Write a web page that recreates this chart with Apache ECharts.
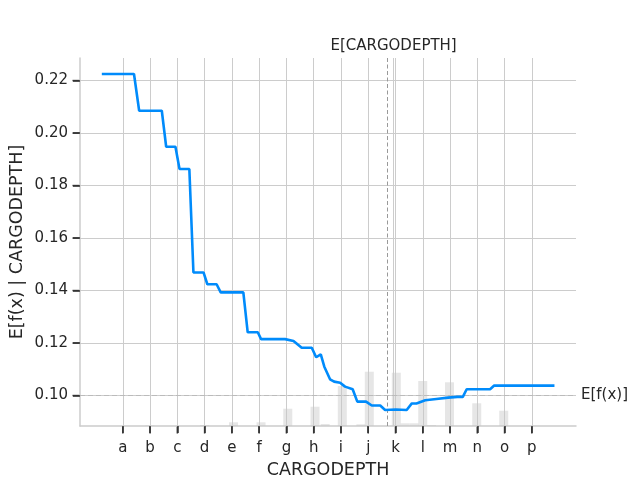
<!DOCTYPE html>
<html>
<head>
<meta charset="utf-8">
<script src="https://cdn.jsdelivr.net/npm/echarts@6/dist/echarts.min.js"></script>
<style>html,body{margin:0;padding:0;background:#fff}#c{width:640px;height:480px}</style>
</head>
<body>
<div id="c"></div>
<script>
const categories = ['a','b','c','d','e','f','g','h','i','j','k','l','m','n','o','p'];
const yTicks = [0.10, 0.12, 0.14, 0.16, 0.18, 0.20, 0.22];
const pdX = [-0.77, 0.41, 0.60, 1.43, 1.59, 1.93, 2.08, 2.44, 2.59, 2.96, 3.10, 3.44, 3.59, 4.42, 4.58, 4.95, 5.07, 5.95, 6.26, 6.56, 6.93, 7.09, 7.26, 7.39, 7.60, 7.75, 7.97, 8.15, 8.43, 8.60, 8.92, 9.13, 9.44, 9.62, 10.01, 10.41, 10.60, 10.77, 11.09, 11.50, 11.93, 12.27, 12.47, 12.61, 13.47, 13.62, 15.83];
const pdY = [0.2225, 0.2225, 0.2085, 0.2085, 0.1948, 0.1948, 0.1863, 0.1863, 0.1469, 0.1469, 0.1424, 0.1424, 0.1393, 0.1393, 0.1241, 0.1241, 0.1215, 0.1215, 0.1208, 0.1182, 0.1182, 0.1146, 0.1157, 0.1110, 0.1062, 0.1053, 0.1049, 0.1034, 0.1024, 0.0977, 0.0977, 0.0962, 0.0962, 0.0945, 0.0947, 0.0945, 0.0970, 0.0970, 0.0982, 0.0987, 0.0992, 0.0995, 0.0995, 0.1024, 0.1024, 0.1038, 0.1038];
const histX = [1.0, 3.0, 4.06, 5.07, 6.05, 7.05, 7.42, 8.05, 8.73, 9.04, 10.03, 10.35, 10.68, 11.0, 11.32, 11.98, 12.98, 13.97];
const histCount = [0.6, 1, 3.7, 3.7, 17.3, 19.3, 2, 40, 1.7, 54.3, 53.3, 2.7, 2.7, 45, 1, 43.7, 22.7, 15.3];
const meanX = 9.70;
const meanXTick = 9.925;
const meanFx = 0.1021;

const FONT = 'DejaVu Sans';
const TXT = '#262626';
const X_MIN = -1.57, X_MAX = 16.62, Y_MIN = 0.0884, Y_MAX = 0.2286;
const chart = echarts.init(document.getElementById('c'), null, {renderer: 'canvas'});
const tickVals = categories.map((_, i) => i);
chart.setOption({
  animation: false,
  backgroundColor: '#fff',
  grid: {left: 80, top: 58, right: 64, bottom: 54, containLabel: false, outerBoundsMode: 'none'},
  xAxis: [{
    type: 'value', min: X_MIN, max: X_MAX,
    name: 'CARGODEPTH', nameLocation: 'middle', nameGap: 35,
    nameTextStyle: {fontFamily: FONT, fontSize: 17.5, color: TXT},
    axisLine: {show: true, onZero: false, lineStyle: {color: '#cccccc', width: 1.5}},
    axisTick: {show: true, customValues: tickVals, length: 7, lineStyle: {color: '#333333', width: 1.5}},
    axisLabel: {customValues: tickVals, margin: 15, fontFamily: FONT, fontSize: 15, color: TXT,
      formatter: v => categories[Math.round(v)] || ''},
    splitLine: {show: true, lineStyle: {color: '#cccccc', width: 1}}
  }],
  yAxis: [{
    type: 'value', min: Y_MIN, max: Y_MAX,
    name: 'E[f(x) | CARGODEPTH]', nameLocation: 'middle', nameGap: 54, nameMoveOverlap: false,
    nameTextStyle: {fontFamily: FONT, fontSize: 17.5, color: TXT},
    axisLine: {show: true, onZero: false, lineStyle: {color: '#cccccc', width: 1.5}},
    axisTick: {show: true, customValues: yTicks, length: 7, lineStyle: {color: '#333333', width: 1.5}},
    axisLabel: {customValues: yTicks, margin: 12, fontFamily: FONT, fontSize: 15, color: TXT,
      formatter: v => v.toFixed(2)},
    splitLine: {show: true, lineStyle: {color: '#cccccc', width: 1}}
  }, {
    type: 'value', min: 0, max: 368, show: false,
    splitLine: {show: false}
  }],
  series: [{
    type: 'bar', xAxisIndex: 0, yAxisIndex: 1, barWidth: 9, z: 1,
    itemStyle: {color: 'rgba(200,200,200,0.45)'},
    data: histX.map((x, i) => [x, histCount[i]]),
    silent: true
  }, {
    type: 'line', xAxisIndex: 0, yAxisIndex: 0, z: 2, silent: true,
    data: [[meanX, meanFx]], showSymbol: false, symbol: 'none', lineStyle: {opacity: 0},
    markLine: {
      silent: true, symbol: 'none', animation: false,
      data: [
        {xAxis: meanX, lineStyle: {color: '#999999', width: 1, type: [4, 2.5]}, label: {show: false}},
        {xAxis: meanXTick, lineStyle: {color: '#cccccc', width: 1, type: 'solid'},
          label: {show: true, position: 'end', distance: 4, formatter: 'E[CARGODEPTH]', fontFamily: FONT, fontSize: 15, color: TXT}},
        {yAxis: meanFx, lineStyle: {color: '#bbbbbb', width: 1, type: [5, 3]},
          label: {show: true, position: 'end', distance: 5, formatter: 'E[f(x)]', fontFamily: FONT, fontSize: 15, color: TXT}}
      ]
    }
  }, {
    type: 'line', xAxisIndex: 0, yAxisIndex: 0, z: 5,
    data: pdX.map((x, i) => [x, pdY[i]]),
    showSymbol: false, symbol: 'none',
    lineStyle: {color: '#008bfb', width: 2.6},
    silent: true
  }]
});

// Tick marks placed through the chart's own scales.
const bottomPx = chart.convertToPixel({yAxisIndex: 0}, Y_MIN);
const leftPx = chart.convertToPixel({xAxisIndex: 0}, X_MIN);
const tickStyle = {stroke: '#333333', lineWidth: 1.5};
const tickEls = [];
tickVals.forEach(v => {
  const px = chart.convertToPixel({xAxisIndex: 0}, v);
  tickEls.push({type: 'line', silent: true, z: 10, shape: {x1: px, y1: bottomPx + 0.75, x2: px, y2: bottomPx + 7.5}, style: tickStyle});
});
yTicks.forEach(v => {
  const py = chart.convertToPixel({yAxisIndex: 0}, v);
  tickEls.push({type: 'line', silent: true, z: 10, shape: {x1: leftPx - 7.5, y1: py, x2: leftPx - 0.75, y2: py}, style: tickStyle});
});
chart.setOption({graphic: tickEls});
</script>
</body>
</html>
